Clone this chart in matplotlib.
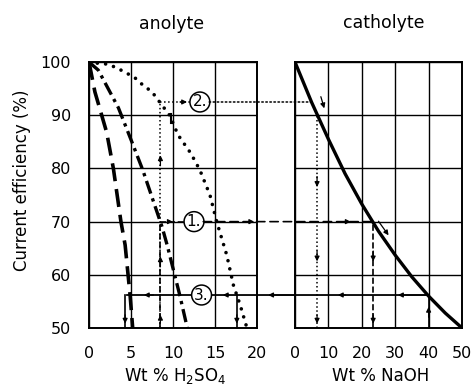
import matplotlib.pyplot as plt
from matplotlib.patches import ConnectionPatch

# anolyte curves (wt % H2SO4 vs current efficiency %)
eff_1 = [100, 94.4, 86.8, 80, 70, 65.6, 56, 50]
acid_1 = [0.0, 0.7, 2.1, 2.9, 3.8, 4.3, 4.9, 5.2]                  # long dash
eff_2 = [100, 98.5, 91.4, 85, 79.7, 69, 65.6, 56.2, 50]
acid_2 = [0.0, 1.1, 3.5, 5.1, 6.4, 8.7, 9.3, 10.8, 11.7]            # dash-dot
eff_3 = [100, 99.8, 99.6, 98.9, 98.1, 97, 95.7, 94.4, 92.3, 90, 86.3, 82.9, 79.7, 75, 70, 63.7, 58, 54.3, 50]
acid_3 = [0.0, 1.0, 2.3, 3.3, 4.3, 5.5, 6.4, 7.5, 8.5, 9.6, 10.6, 12.1, 13.2, 14.4, 15.2, 16.4, 17.2, 18.0, 18.8]  # dotted

# catholyte curve (wt % NaOH vs current efficiency %)
naoh_c = [0, 5, 10, 15, 20, 25, 30, 35, 40, 45, 50]
eff_c = [100, 92.4, 85.5, 79, 73.3, 68.2, 63.7, 59.6, 56, 52.8, 50]

# read-off examples
lvl = {"1.": 70, "2.": 92.5, "3.": 56.2}
circ_x = {"1.": 12.5, "2.": 13.2, "3.": 13.4}

plt.rcParams["font.family"] = "DejaVu Sans"
fig = plt.figure(figsize=(4.74, 3.87), dpi=100)
axL = fig.add_axes([0.1878, 0.1525, 0.3544, 0.687])
axR = fig.add_axes([0.6224, 0.1525, 0.3523, 0.687])

for ax in (axL, axR):
    ax.set_ylim(50, 100)
    ax.set_yticks([50, 60, 70, 80, 90, 100])
    ax.grid(True, color="black", lw=1.0)
    ax.tick_params(length=0, labelsize=11.5, pad=13)
    for s in ax.spines.values():
        s.set_linewidth(1.4)

axL.set_xlim(0, 20)
axL.set_xticks([0, 5, 10, 15, 20])
axR.set_xlim(0, 50)
axR.set_xticks([0, 10, 20, 30, 40, 50])
axR.set_yticklabels([])

axL.plot(acid_1, eff_1, color="black", lw=2.6, dashes=(5, 2.2))
axL.plot(acid_2, eff_2, color="black", lw=2.4, dashes=(4, 1.5, 1, 1.5))
axL.plot(acid_3, eff_3, color="black", lw=2.6, dashes=(0.01, 2.3), dash_capstyle="round")
axR.plot(naoh_c, eff_c, color="black", lw=2.4)

fig.text(0.363, 0.938, "anolyte", fontsize=12.5, ha="center", va="center")
fig.text(0.810, 0.941, "catholyte", fontsize=12.5, ha="center", va="center")
fig.text(0.046, 0.535, "Current efficiency (%)", fontsize=12, ha="center", va="center", rotation=90)
fig.text(0.369, 0.0155, "Wt % H$_2$SO$_4$", fontsize=12, ha="center", va="baseline")
fig.text(0.802, 0.0155, "Wt % NaOH", fontsize=12, ha="center", va="baseline")


def seg(ax, xs, ys, ls, lw=1.0):
    ax.plot(xs, ys, color="black", ls=ls, lw=lw, clip_on=False)


def arr(ax, tail, tip):
    ax.annotate("", xy=tip, xytext=tail, annotation_clip=False,
                arrowprops=dict(arrowstyle="-|>", mutation_scale=7, lw=0.9, color="black"))


def across(xa, xb, y, ls, lw=1.0):
    con = ConnectionPatch(xyA=(xa, y), coordsA=axL.transData, xyB=(xb, y), coordsB=axR.transData,
                          color="black", ls=ls, lw=lw)
    fig.add_artist(con)


# example 2 (dotted)
y2 = lvl["2."]
seg(axL, [8.5, 8.5], [50, y2], ":", 1.1)
seg(axL, [8.5, 12.3], [y2, y2], ":", 1.1)
arr(axL, (8.5, 80), (8.5, 83))
arr(axL, (10.5, y2), (12.0, y2))
seg(axL, [9.8, 9.8], [88.5, 90.2], "-", 1.5)
across(14.3, 5.4, y2, ":", 1.1)
arr(axR, (7.5, 94), (9.0, 90.8))
seg(axR, [6.6, 6.6], [50, 90], ":", 1.1)
arr(axR, (6.6, 79), (6.6, 76))
arr(axR, (6.6, 65), (6.6, 62))
arr(axR, (6.6, 53), (6.6, 50.3))

# example 1 (dashed)
y1 = lvl["1."]
seg(axL, [8.5, 8.5], [50, y1], "--", 1.2)
seg(axL, [8.5, 11.4], [y1, y1], "--", 1.2)
arr(axL, (8.5, 61), (8.5, 64))
arr(axL, (8.5, 50.5), (8.5, 53))
arr(axL, (9.0, y1), (10.3, y1))
across(13.6, 23.4, y1, (0, (5, 3)), 1.2)
arr(axL, (18.0, y1), (20.0, y1))
arr(axR, (13.0, y1), (17.5, y1))
arr(axR, (24.5, 70.5), (28.5, 67.0))
seg(axR, [23.4, 23.4], [50, y1], "--", 1.2)
arr(axR, (23.4, 65), (23.4, 62))
arr(axR, (23.4, 53), (23.4, 50.3))

# example 3 (solid)
y3 = lvl["3."]
seg(axR, [40, 40], [50, y3], "-", 1.2)
arr(axR, (40, 51.5), (40, 54.5))
across(14.6, 40, y3, "-", 1.3)
arr(axR, (40, y3), (30, y3))
arr(axR, (16, y3), (12.0, y3))
arr(axL, (25.5, y3), (21.0, y3))
arr(axL, (17.0, y3), (15.6, y3))
seg(axL, [4.5, 12.1], [y3, y3], "-", 1.3)
arr(axL, (8.0, y3), (6.2, y3))
seg(axL, [4.3, 4.3], [50, y3], "-", 1.2)
arr(axL, (4.3, 53), (4.3, 50.3))
seg(axL, [17.6, 17.6], [50, y3], "-", 1.2)
arr(axL, (17.6, 53), (17.6, 50.3))

for k in lvl:
    axL.text(circ_x[k], lvl[k], k, fontsize=11, ha="center", va="center", zorder=5,
             bbox=dict(boxstyle="circle,pad=0.16", fc="white", ec="black", lw=1.1))

fig.savefig("out.png", dpi=100)
